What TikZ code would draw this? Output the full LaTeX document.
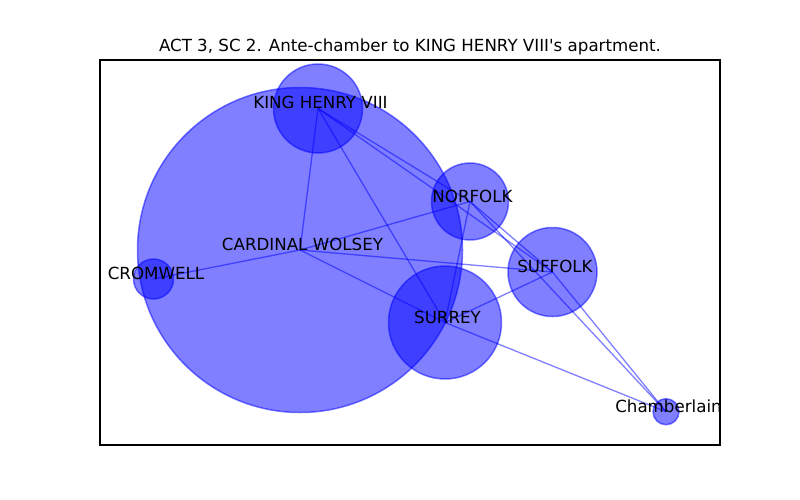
\documentclass[tikz,border=0pt]{standalone}
\usepackage{fontspec}
\newfontfamily\djv{DejaVu Sans}
\begin{document}
\begin{tikzpicture}[x=1pt,y=-1pt,
  vertex/.style={circle,inner sep=0pt,outer sep=0pt,fill=blue,draw=blue,fill opacity=0.5,draw opacity=0.5,line width=1.5pt},
  edge/.style={draw=blue,opacity=0.5,line width=1.3pt},
  lbl/.style={anchor=base,inner sep=0pt,font=\djv\fontsize{16.67}{20}\selectfont,text=black},
  frame/.style={draw=black,line width=1.1pt}]
\useasboundingbox (0,0) rectangle (800,500);
\fill[white] (0,0) rectangle (800,500);
% node positions
\coordinate (pw) at (300,250);
\coordinate (ph) at (318,108.5);
\coordinate (pn) at (470,201.5);
\coordinate (ps) at (552.5,272);
\coordinate (pr) at (445,322.5);
\coordinate (pc) at (153.5,279);
\coordinate (pl) at (666,411.7);
% edges
\draw[edge] (ph) -- (pw);
\draw[edge] (ph) -- (pn);
\draw[edge] (ph) -- (ps);
\draw[edge] (ph) -- (pr);
\draw[edge] (pw) -- (pc);
\draw[edge] (pw) -- (pn);
\draw[edge] (pw) -- (ps);
\draw[edge] (pw) -- (pr);
\draw[edge] (pn) -- (pr);
\draw[edge] (pn) -- (ps);
\draw[edge] (pn) -- (pl);
\draw[edge] (ps) -- (pr);
\draw[edge] (ps) -- (pl);
\draw[edge] (pr) -- (pl);
% nodes
\node[vertex,minimum size=325pt] (wolsey) at (pw) {};
\node[vertex,minimum size=89pt] (henry) at (ph) {};
\node[vertex,minimum size=77pt] (norfolk) at (pn) {};
\node[vertex,minimum size=89pt] (suffolk) at (ps) {};
\node[vertex,minimum size=113pt] (surrey) at (pr) {};
\node[vertex,minimum size=40pt] (cromwell) at (pc) {};
\node[vertex,minimum size=26pt] (chamb) at (pl) {};
% labels
\node[lbl] (wolseyL) at (302.5,250.5) {CARDINAL WOLSEY};
\node[lbl] (henryL) at (320.5,109) {KING HENRY VIII};
\node[lbl] (norfolkL) at (472.5,202) {NORFOLK};
\node[lbl] (suffolkL) at (555,272.5) {SUFFOLK};
\node[lbl] (surreyL) at (447.5,323) {SURREY};
\node[lbl] (cromwellL) at (156,279.5) {CROMWELL};
\node[lbl] (chambL) at (668.5,412.5) {Chamberlain};
% frame and title
\draw[frame] (100,60) rectangle (720,445);
\node[lbl] (title) at (410,51.7) {ACT 3, SC 2. Ante-chamber to KING HENRY VIII's apartment.};
\end{tikzpicture}
\end{document}
